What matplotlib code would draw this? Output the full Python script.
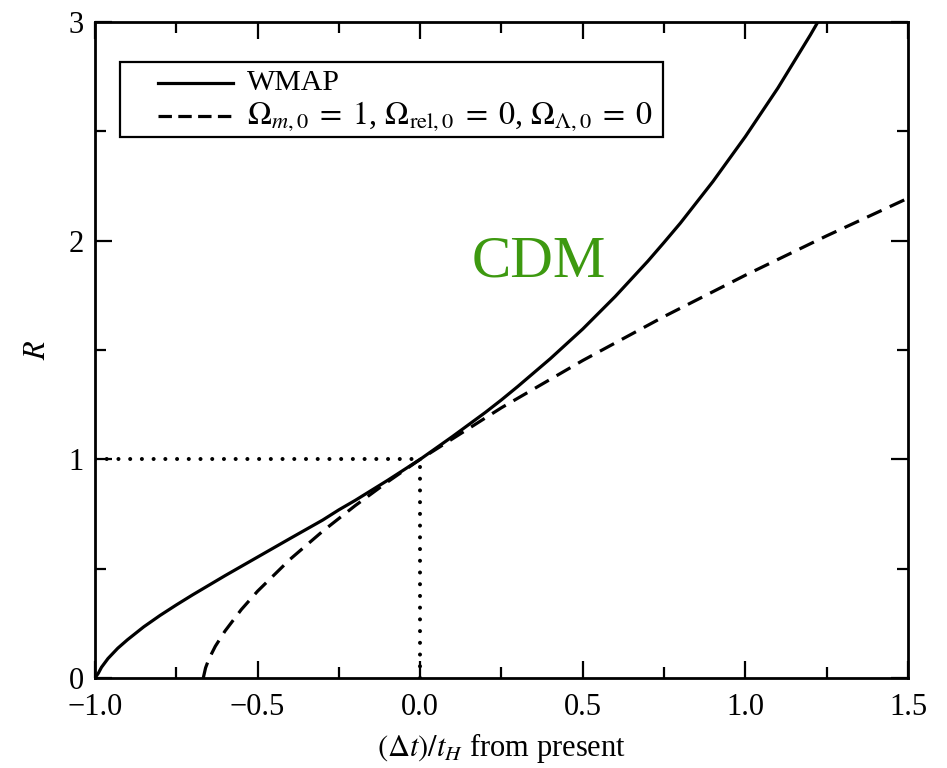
import matplotlib
matplotlib.use("Agg")
import matplotlib.pyplot as plt
from matplotlib.ticker import MultipleLocator
from matplotlib.patches import Rectangle

plt.rcParams['font.family'] = ['Liberation Serif', 'DejaVu Serif']
plt.rcParams['mathtext.fontset'] = 'stix'

# solid curve (WMAP)
wmap_t = [-1.0, -0.99, -0.98, -0.96, -0.93, -0.90, -0.85, -0.80, -0.75, -0.70,
          -0.60, -0.50, -0.40, -0.30, -0.25, -0.20, -0.10, 0.0, 0.10, 0.20,
          0.25, 0.30, 0.40, 0.50, 0.60, 0.70, 0.75, 0.80, 0.90, 1.0,
          1.10, 1.20, 1.25]
wmap_R = [0.0, 0.021, 0.049, 0.089, 0.136, 0.175, 0.234, 0.286, 0.334, 0.380,
          0.468, 0.553, 0.638, 0.722, 0.769, 0.812, 0.904, 1.0, 1.105, 1.214,
          1.272, 1.333, 1.460, 1.596, 1.745, 1.906, 1.992, 2.080, 2.270, 2.476,
          2.698, 2.941, 3.07]

# dashed curve (matter only)
eds_t = [-0.667, -0.66, -0.65, -0.63, -0.60, -0.55, -0.50, -0.40, -0.30, -0.20,
         -0.10, 0.0, 0.25, 0.50, 0.75, 1.0, 1.25, 1.5]
eds_R = [0.0, 0.046, 0.086, 0.145, 0.215, 0.313, 0.397, 0.543, 0.671, 0.788,
         0.897, 1.0, 1.236, 1.452, 1.653, 1.842, 2.022, 2.194]

wmap_label = 'WMAP'
eds_label = (r'$\Omega_{m,0}\;=\;1$, $\Omega_{\rm rel,0}\;=\;0$, '
             r'$\Omega_{\Lambda,0}\;=\;0$')

fig = plt.figure(figsize=(9.47, 7.68), dpi=100)
ax = fig.add_axes([0.1003, 0.1172, 0.8585, 0.8542])

ax.plot(wmap_t, wmap_R, color='black', lw=2.3)
ax.plot(eds_t, eds_R, color='black', lw=2.3, dashes=(5, 2.8))

# present day guides
dot = (0, (0.01, 2.9))
ax.plot([-1.0, 0.0], [1.0, 1.0], color='black', lw=2.9,
        linestyle=dot, dash_capstyle='round')
ax.plot([0.0, 0.0], [0.0, 1.0], color='black', lw=2.9,
        linestyle=dot, dash_capstyle='round')

ax.text(0.364, 1.834, 'CDM', color='#3d9910', fontsize=42.5,
        ha='center', va='baseline')

# legend box drawn by hand
ax.add_patch(Rectangle((0.0308, 0.8247), 0.6678, 0.1143, transform=ax.transAxes,
                       facecolor='white', edgecolor='black', lw=1.6, zorder=5))
ax.plot([0.0775, 0.1697], [0.907, 0.907], color='black', lw=2.3,
        transform=ax.transAxes, zorder=6)
ax.plot([0.0775, 0.1697], [0.8567, 0.8567], color='black', lw=2.3,
        dashes=(4.2, 2.0), transform=ax.transAxes, zorder=6)
ax.text(0.187, 0.907, wmap_label, fontsize=21.5, va='center', ha='left',
        transform=ax.transAxes, zorder=6)
ax.text(0.187, 0.8567, eds_label, fontsize=23, va='center', ha='left',
        transform=ax.transAxes, zorder=6)

ax.set_xlim(-1.0, 1.5)
ax.set_ylim(0, 3)
ax.xaxis.set_major_locator(MultipleLocator(0.5))
ax.xaxis.set_minor_locator(MultipleLocator(0.25))
ax.yaxis.set_major_locator(MultipleLocator(1))
ax.yaxis.set_minor_locator(MultipleLocator(0.5))
ax.tick_params(which='both', direction='in', top=True, right=True,
               width=1.6, labelsize=22)
ax.tick_params(axis='x', pad=11)
ax.tick_params(axis='y', pad=8)
ax.tick_params(which='major', length=12)
ax.tick_params(which='minor', length=8)
for s in ax.spines.values():
    s.set_linewidth(2.0)

ax.set_xlabel(r'$(\Delta t)/t_H$ from present', fontsize=22, labelpad=6)
ax.set_ylabel(r'$R$', fontsize=22, labelpad=12)

fig.savefig('out.png', dpi=100)
